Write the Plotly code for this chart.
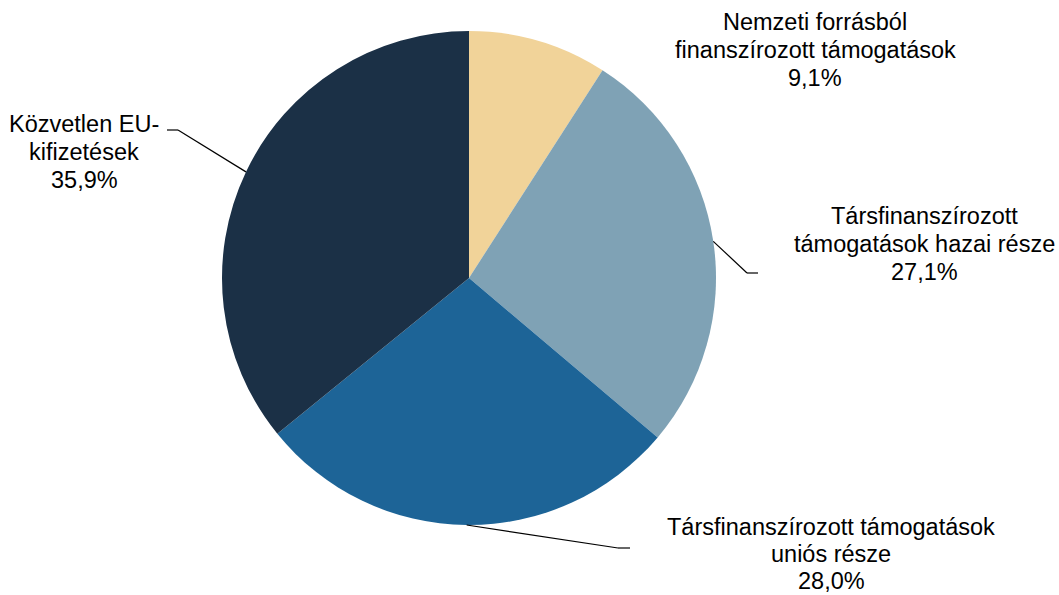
import math
import plotly.graph_objects as go

labels = [
    "Nemzeti forrásból finanszírozott támogatások",
    "Társfinanszírozott támogatások hazai része",
    "Társfinanszírozott támogatások uniós része",
    "Közvetlen EU-kifizetések",
]
label_lines = [
    ["Nemzeti forrásból", "finanszírozott támogatások", "9,1%"],
    ["Társfinanszírozott", "támogatások hazai része", "27,1%"],
    ["Társfinanszírozott támogatások", "uniós része", "28,0%"],
    ["Közvetlen EU-", "kifizetések", "35,9%"],
]
values = [9.1, 27.1, 28.0, 35.9]
colors = ["#F1D399", "#7FA2B5", "#1D6497", "#1B3046"]

W, H = 1059, 595
CX, CY, R = 469, 278, 247

# label first-line centres (px), line spacing, leader elbow/end points (px) - layout only
label_pos = [(815, 22), (924, 216), (831, 527), (84, 124)]
line_h = [28, 28, 27, 28]
elbows = [None, (747, 273), (618, 548), (178, 130)]
ends = [None, (758, 273), (630, 548), (167, 130)]


def px(x, y):
    return x / W, 1 - y / H


fig = go.Figure(
    go.Pie(
        labels=labels,
        values=values,
        sort=False,
        direction="clockwise",
        rotation=0,
        marker=dict(colors=colors, line=dict(width=0)),
        textinfo="none",
        hoverinfo="label+percent",
        domain=dict(
            x=[(CX - R) / W, (CX + R) / W],
            y=[1 - (CY + R) / H, 1 - (CY - R) / H],
        ),
        showlegend=False,
    )
)

total = sum(values)
cum = 0
shapes = []
annotations = []
for i, v in enumerate(values):
    mid = (cum + v / 2) / total * 2 * math.pi
    cum += v
    sx = CX + R * math.sin(mid)
    sy = CY - R * math.cos(mid)
    if elbows[i] is not None:
        pts = [(sx, sy), elbows[i], ends[i]]
        for (x0, y0), (x1, y1) in zip(pts[:-1], pts[1:]):
            a0 = px(x0, y0)
            a1 = px(x1, y1)
            shapes.append(
                dict(type="line", xref="paper", yref="paper",
                     x0=a0[0], y0=a0[1], x1=a1[0], y1=a1[1],
                     line=dict(color="black", width=1.2))
            )
    bx, by = label_pos[i]
    for j, line in enumerate(label_lines[i]):
        lx, ly = px(bx, by + j * line_h[i])
        annotations.append(
            dict(text=line, x=lx, y=ly, xref="paper", yref="paper",
                 xanchor="center", yanchor="middle", showarrow=False,
                 align="center",
                 font=dict(family="Liberation Sans, Arial", size=23.5,
                           color="black"))
        )

fig.update_layout(
    width=W, height=H,
    margin=dict(l=0, r=0, t=0, b=0),
    paper_bgcolor="white",
    plot_bgcolor="white",
    shapes=shapes,
    annotations=annotations,
)

fig.write_html(
    "out.html",
    config={"displayModeBar": False},
    post_script="document.body.style.margin='0';document.body.style.overflow='hidden';",
)
